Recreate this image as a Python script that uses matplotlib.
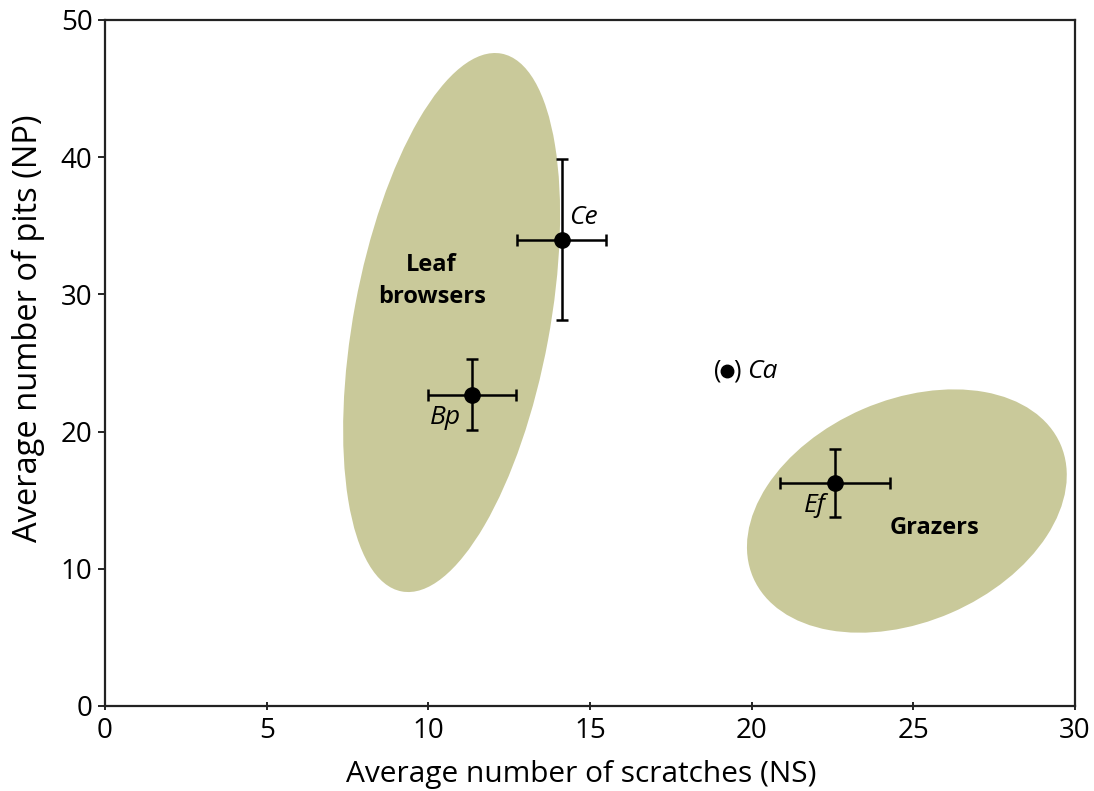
import matplotlib.pyplot as plt
from matplotlib.patches import Ellipse
from matplotlib.transforms import Affine2D

plt.rcParams['font.family'] = ['Open Sans', 'DejaVu Sans']

### DATA
species = ['Bp', 'Ce', 'Ef']
ns = [11.35, 14.13, 22.58]
np_ = [22.7, 34.0, 16.25]
ns_err = [1.36, 1.38, 1.7]
np_err = [2.6, 5.9, 2.5]

ca_ns = 19.24
ca_np = 24.4

### ELLIPSES: centre in data units, axes/angle in reference pixels
groups = ['Leaf\nbrowsers', 'Grazers']
ell_center = [(10.72, 27.95), (24.80, 14.21)]
ell_width = [547, 335]
ell_height = [196, 222]
ell_angle = [79.5, 23.4]
group_text_pos = [(10.1, 31.0), (25.67, 13.0)]

fig = plt.figure(figsize=(10.94, 7.91), dpi=100)
ax = fig.add_axes([105/1094, 1-706/791, 970/1094, 686/791])
ax.set_xlim(0, 30)
ax.set_ylim(0, 50)

px_x = 30/970
px_y = 50/686
for c, w, h, a in zip(ell_center, ell_width, ell_height, ell_angle):
    tr = Affine2D().scale(px_x, px_y).translate(c[0], c[1]) + ax.transData
    e = Ellipse((0, 0), w, h, angle=a, transform=tr, facecolor='#c9c99a', edgecolor='none', zorder=1)
    ax.add_patch(e)

for g, p in zip(groups, group_text_pos):
    ax.text(p[0], p[1], g, ha='center', va='center', fontsize=17, fontweight='bold', linespacing=1.45, zorder=3)

ax.errorbar(ns, np_, xerr=ns_err, yerr=np_err, fmt='o', color='black', ms=11,
            elinewidth=1.8, capsize=4, capthick=1.8, zorder=4)
ax.plot(ca_ns, ca_np, 'o', color='black', ms=9, zorder=4)
ax.text(ca_ns - 0.3, ca_np, '(', ha='center', va='center', fontsize=18)
ax.text(ca_ns + 0.3, ca_np, ')', ha='center', va='center', fontsize=18)
ax.text(ca_ns + 0.62, ca_np, 'Ca', ha='left', va='center', fontsize=19, style='italic')

# species labels
ax.text(14.35, 35.6, 'Ce', ha='left', va='center', fontsize=19, style='italic')
ax.text(11.0, 21.0, 'Bp', ha='right', va='center', fontsize=19, style='italic')
ax.text(22.3, 14.6, 'Ef', ha='right', va='center', fontsize=19, style='italic')

for s in ax.spines.values():
    s.set_linewidth(1.6)
    s.set_color('#222222')

ax.set_xticks(range(0, 31, 5))
ax.set_yticks(range(0, 51, 10))
ax.tick_params(axis='x', direction='inout', length=6, width=1.2, labelsize=20, pad=5)
ax.tick_params(axis='y', direction='out', length=5, width=1.2, labelsize=20, pad=4)
ax.set_xlabel('Average number of scratches (NS)', fontsize=21.5)
ax.set_ylabel('Average number of pits (NP)', fontsize=23.5)
ax.xaxis.set_label_coords(0.491, -0.078)
ax.yaxis.set_label_coords(-0.062, 0.55)

fig.savefig('out.png', dpi=100)
